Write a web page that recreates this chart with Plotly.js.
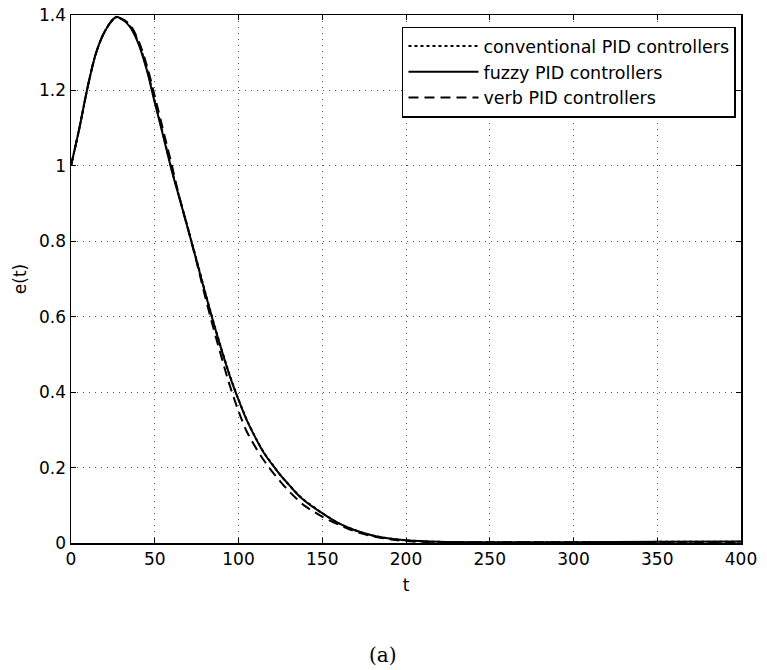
<!DOCTYPE html>
<html>
<head>
<meta charset="utf-8">
<script src="https://cdn.plot.ly/plotly-3.0.1.min.js"></script>
<style>html,body{margin:0;padding:0;background:#fff;}#chart{width:767px;height:670px;}</style>
</head>
<body>
<div id="chart"></div>
<script>
// time samples
const t = [0, 5, 10, 15, 20, 25, 27, 30, 35, 40, 45, 50, 55, 60, 65, 70, 75, 80, 85, 90, 95, 100,
           105, 110, 115, 120, 125, 130, 135, 140, 145, 150, 160, 170, 180, 190, 200, 220, 250, 300, 350, 400];

// conventional PID controllers (dotted, nearly coincident with fuzzy)
const conventional = [1.0, 1.10, 1.21, 1.30, 1.355, 1.388, 1.394, 1.390, 1.372, 1.330, 1.262, 1.172, 1.083, 0.992, 0.912, 0.832, 0.750, 0.667, 0.587, 0.512, 0.442, 0.381,
           0.326, 0.281, 0.241, 0.210, 0.180, 0.155, 0.131, 0.111, 0.095, 0.079, 0.052, 0.033, 0.020, 0.012, 0.007, 0.003, 0.002, 0.002, 0.003, 0.003];

// fuzzy PID controllers (solid)
const fuzzy = [1.0, 1.10, 1.21, 1.30, 1.355, 1.388, 1.395, 1.390, 1.370, 1.327, 1.258, 1.168, 1.080, 0.990, 0.910, 0.830, 0.748, 0.665, 0.585, 0.510, 0.440, 0.380,
           0.325, 0.280, 0.240, 0.209, 0.180, 0.155, 0.130, 0.110, 0.094, 0.079, 0.052, 0.033, 0.020, 0.012, 0.007, 0.003, 0.002, 0.002, 0.003, 0.004];

// verb PID controllers (dashed)
const verb = [1.0, 1.10, 1.21, 1.30, 1.355, 1.388, 1.393, 1.390, 1.375, 1.335, 1.270, 1.185, 1.095, 1.005, 0.912, 0.830, 0.745, 0.655, 0.570, 0.490, 0.415, 0.350,
           0.295, 0.255, 0.220, 0.190, 0.163, 0.138, 0.116, 0.097, 0.083, 0.070, 0.048, 0.030, 0.018, 0.010, 0.005, 0.002, 0.002, 0.002, 0.002, 0.002];

const xTicks = [0, 50, 100, 150, 200, 250, 300, 350, 400];
const yTicks = [0, 0.2, 0.4, 0.6, 0.8, 1, 1.2, 1.4];
const yTickText = ['0', '0.2', '0.4', '0.6', '0.8', '1', '1.2', '1.4'];

const seriesNames = ['conventional PID controllers', 'fuzzy PID controllers', 'verb PID controllers'];

const font = 'DejaVu Sans, Liberation Sans, Arial, sans-serif';

const traces = [
  {x: t, y: conventional, name: seriesNames[0], mode: 'lines', line: {color: '#000', width: 2, dash: 'dot', shape: 'spline'}},
  {x: t, y: fuzzy, name: seriesNames[1], mode: 'lines', line: {color: '#000', width: 2, shape: 'spline'}},
  {x: t, y: verb, name: seriesNames[2], mode: 'lines', line: {color: '#000', width: 2, dash: '10px,6px', shape: 'spline'}}
];

const axisCommon = {
  showline: true, linecolor: '#000', linewidth: 1.5, mirror: 'ticks',
  ticks: 'inside', ticklen: 5, tickcolor: '#000', tickwidth: 1,
  showgrid: true, gridcolor: '#555', griddash: '1px,5px', gridwidth: 1,
  zeroline: false, tickfont: {family: font, size: 17, color: '#000'}
};

const layout = {
  width: 767, height: 670,
  margin: {l: 71, r: 26, t: 15, b: 127},
  paper_bgcolor: '#fff', plot_bgcolor: '#fff',
  showlegend: true,
  xaxis: Object.assign({}, axisCommon, {
    range: [0, 400], tickvals: xTicks, ticktext: xTicks.map(String),
    title: {text: 't', font: {family: font, size: 17, color: '#000'}, standoff: 11}
  }),
  yaxis: Object.assign({}, axisCommon, {
    range: [0, 1.4], tickvals: yTicks, ticktext: yTickText,
    title: {text: 'e(t)', font: {family: font, size: 17, color: '#000'}, standoff: 8}
  }),
  legend: {
    x: 0.9925, xanchor: 'right', y: 0.978, yanchor: 'top',
    bgcolor: '#fff', bordercolor: '#000', borderwidth: 1.5,
    font: {family: font, size: 17.5, color: '#000'},
    itemwidth: 70, tracegroupgap: 0
  },
  annotations: [{
    text: '(a)', xref: 'paper', yref: 'paper', x: 0.4657, y: -0.212,
    xanchor: 'center', yanchor: 'middle', showarrow: false,
    font: {family: 'DejaVu Serif, Liberation Serif, serif', size: 20, color: '#000'}
  }]
};

Plotly.newPlot('chart', traces, layout, {displayModeBar: false, staticPlot: true});
</script>
</body>
</html>
